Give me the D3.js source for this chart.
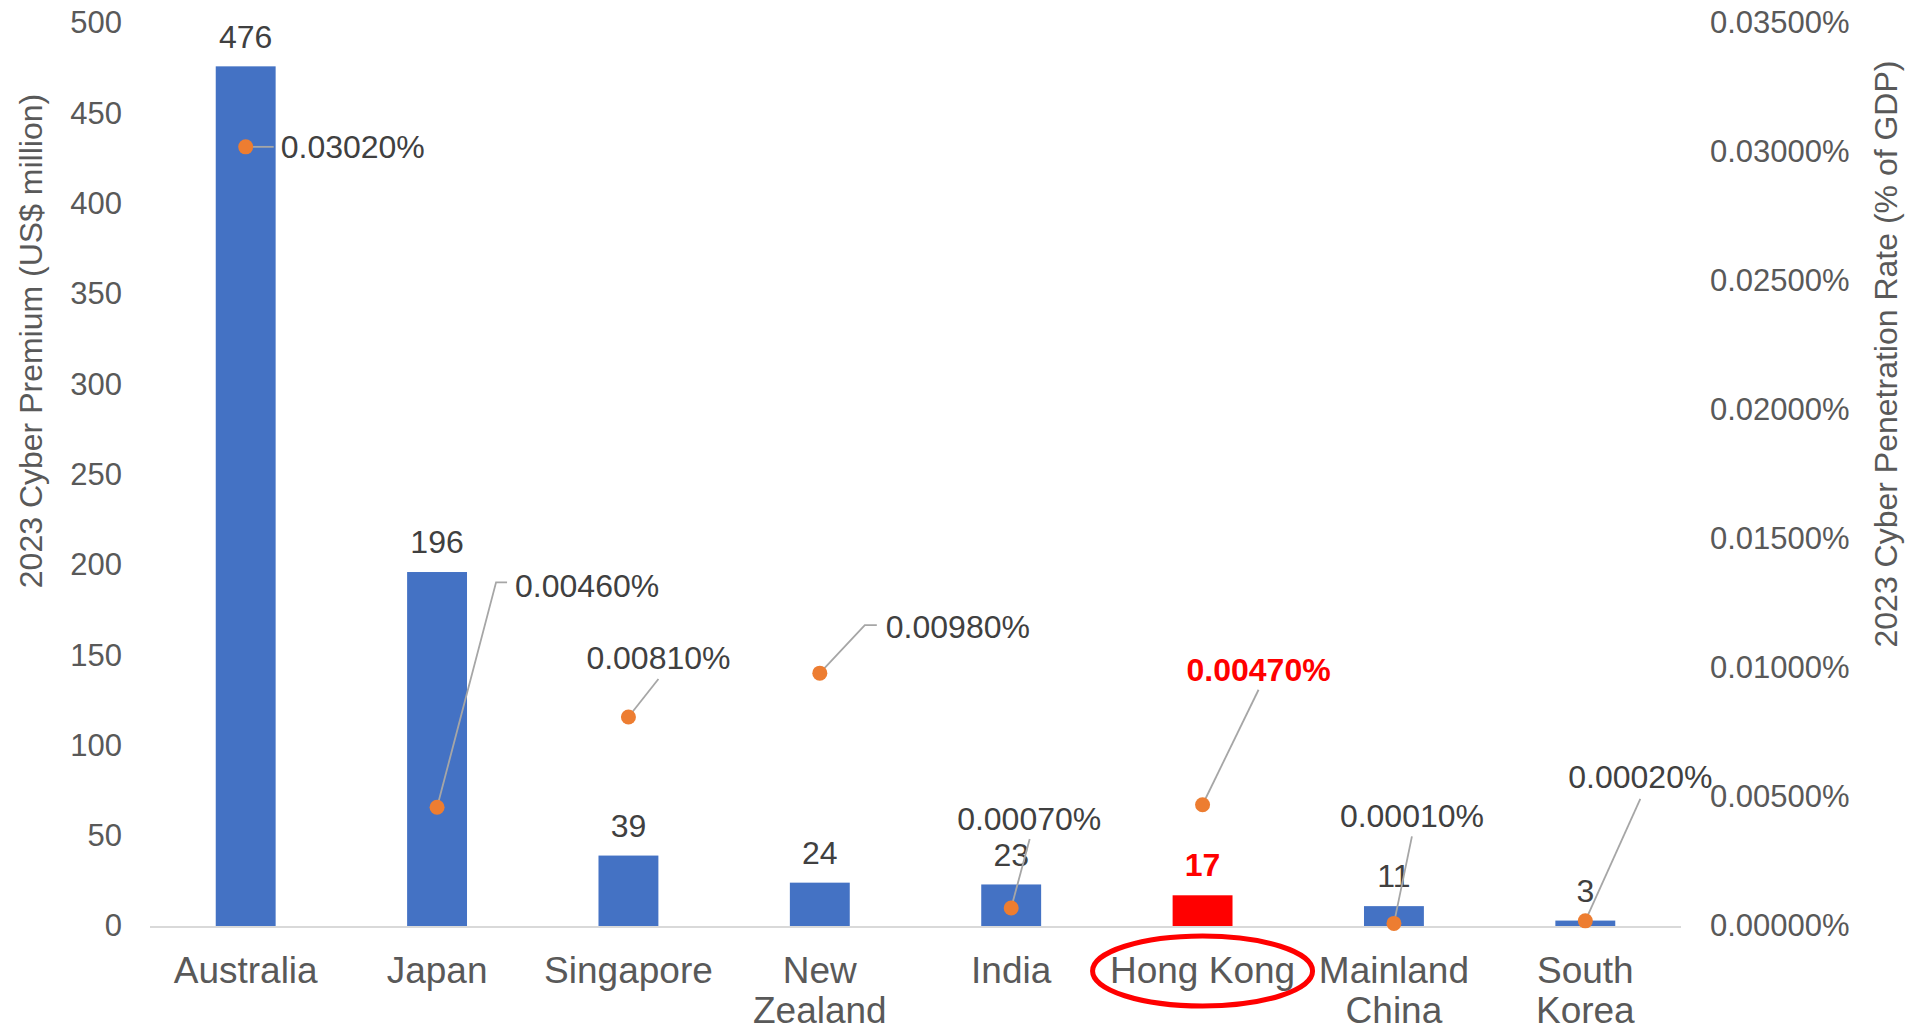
<!DOCTYPE html>
<html><head><meta charset="utf-8">
<script src="https://cdn.jsdelivr.net/npm/d3@7"></script>
<style>
html,body{margin:0;padding:0;background:#fff;}
svg{display:block;font-family:Arial,"Liberation Sans",sans-serif;}
</style></head>
<body><svg id="c" width="1910" height="1031"></svg>
<script>
// ---- data ----
const categories = ["Australia","Japan","Singapore","New Zealand","India","Hong Kong","Mainland China","South Korea"];
const categoryLines = [["Australia"],["Japan"],["Singapore"],["New","Zealand"],["India"],["Hong Kong"],["Mainland","China"],["South","Korea"]];
const premium = [476,196,39,24,23,17,11,3];              // US$ million
const penetration = [0.0302,0.0046,0.0081,0.0098,0.0007,0.0047,0.0001,0.0002]; // % of GDP
const premiumTicks = [0,50,100,150,200,250,300,350,400,450,500];
const rateTicks = [0,0.005,0.01,0.015,0.02,0.025,0.03,0.035];
const highlight = "Hong Kong";

// ---- layout (label placement relative to point, px) ----
const rateLabelLayout = [
  {dx:35, dy:0,   anchor:"start",  leader:[[28,0]]},
  {dx:78, dy:-222,anchor:"start",  leader:[[59,-225],[70,-225]]},
  {dx:30, dy:-59, anchor:"middle", leader:[[30,-38]]},
  {dx:66, dy:-46, anchor:"start",  leader:[[45,-48],[57,-48]]},
  {dx:18, dy:-89, anchor:"middle", leader:[[18.5,-69]]},
  {dx:56, dy:-135,anchor:"middle", leader:[[56,-115]]},
  {dx:18, dy:-108,anchor:"middle", leader:[[18,-87]]},
  {dx:55, dy:-144,anchor:"middle", leader:[[55,-122]]}
];

const svg = d3.select("#c");
const left = 150, right = 1681, y0 = 926, yTop = 23;

const x = d3.scaleBand().domain(categories).range([left,right]).paddingInner(0.687).paddingOuter(0.3435);
const y = d3.scaleLinear().domain([0,500]).range([y0,yTop]);
const y2 = d3.scaleLinear().domain([0,0.035]).range([y0,yTop]);

const blue = "#4472C4", red = "#FF0000", orange = "#ED7D31";
const tickCol = "#595959", labCol = "#404040";
const ff = "Arial,'Liberation Sans',sans-serif";

// left axis
const la = svg.append("g").attr("transform",`translate(122,0)`)
  .call(d3.axisLeft(y).tickValues(premiumTicks).tickSize(0).tickPadding(0).tickFormat(d3.format("d")));
la.select(".domain").remove();
la.selectAll("text").attr("fill",tickCol).style("font-size","31px").style("font-family",ff);

// right axis
const ra = svg.append("g").attr("transform",`translate(1710,0)`)
  .call(d3.axisRight(y2).tickValues(rateTicks).tickSize(0).tickPadding(0).tickFormat(d => d.toFixed(5)+"%"));
ra.select(".domain").remove();
ra.selectAll("text").attr("fill",tickCol).style("font-size","31px").style("font-family",ff);

// axis titles
svg.append("text").attr("transform","translate(34,341) rotate(-90)").attr("text-anchor","middle")
  .attr("dominant-baseline","middle").attr("fill",tickCol).style("font-size","32px")
  .text("2023 Cyber Premium (US$ million)");
svg.append("text").attr("transform","translate(1889,354) rotate(-90)").attr("text-anchor","middle")
  .attr("dominant-baseline","middle").attr("fill",tickCol).style("font-size","32px")
  .text("2023 Cyber Penetration Rate (% of GDP)");

// bars
const data = categories.map((c,i)=>({c,v:premium[i],r:penetration[i],lines:categoryLines[i],lay:rateLabelLayout[i]}));
svg.append("g").selectAll("rect").data(data).join("rect")
  .attr("x",d=>x(d.c)).attr("width",x.bandwidth())
  .attr("y",d=>y(d.v)).attr("height",d=>y(0)-y(d.v))
  .attr("fill",d=>d.c===highlight?red:blue);

// baseline
svg.append("line").attr("x1",left).attr("x2",right).attr("y1",y0+1).attr("y2",y0+1)
  .attr("stroke","#D9D9D9").attr("stroke-width",2);

// bar value labels
svg.append("g").selectAll("text").data(data).join("text")
  .attr("x",d=>x(d.c)+x.bandwidth()/2).attr("y",d=>y(d.v)-30)
  .attr("text-anchor","middle").attr("dy","0.35em")
  .attr("fill",d=>d.c===highlight?red:labCol)
  .style("font-weight",d=>d.c===highlight?"bold":"normal")
  .style("font-size","32px").text(d=>d.v);

// category labels
const cl = svg.append("g").selectAll("text").data(data).join("text")
  .attr("text-anchor","middle").attr("fill",tickCol).style("font-size","37px")
  .attr("transform",d=>`translate(${x(d.c)+x.bandwidth()/2},0)`);
cl.selectAll("tspan").data(d=>d.lines).join("tspan")
  .attr("x",0).attr("y",(d,i)=>983+i*40).text(d=>d);

// highlight ellipse
svg.append("ellipse").attr("cx",x(highlight)+x.bandwidth()/2).attr("cy",971)
  .attr("rx",110).attr("ry",35).attr("fill","none").attr("stroke",red).attr("stroke-width",5);

// leader lines
const px = d => x(d.c)+x.bandwidth()/2, py = d => y2(d.r);
svg.append("g").selectAll("path").data(data).join("path")
  .attr("d",d=>{
    const pts=[[px(d),py(d)]].concat(d.lay.leader.map(p=>[px(d)+p[0],py(d)+p[1]]));
    return d3.line()(pts);
  })
  .attr("fill","none").attr("stroke","#A6A6A6").attr("stroke-width",1.8);

// penetration points
svg.append("g").selectAll("circle").data(data).join("circle")
  .attr("cx",px).attr("cy",py).attr("r",7.5).attr("fill",orange);

// penetration labels
svg.append("g").selectAll("text").data(data).join("text")
  .attr("x",d=>px(d)+d.lay.dx).attr("y",d=>py(d)+d.lay.dy).attr("dy","0.35em")
  .attr("text-anchor",d=>d.lay.anchor)
  .attr("fill",d=>d.c===highlight?red:labCol)
  .style("font-weight",d=>d.c===highlight?"bold":"normal")
  .style("font-size","32px")
  .text(d=>(d.r).toFixed(5)+"%");
</script>
</body></html>
